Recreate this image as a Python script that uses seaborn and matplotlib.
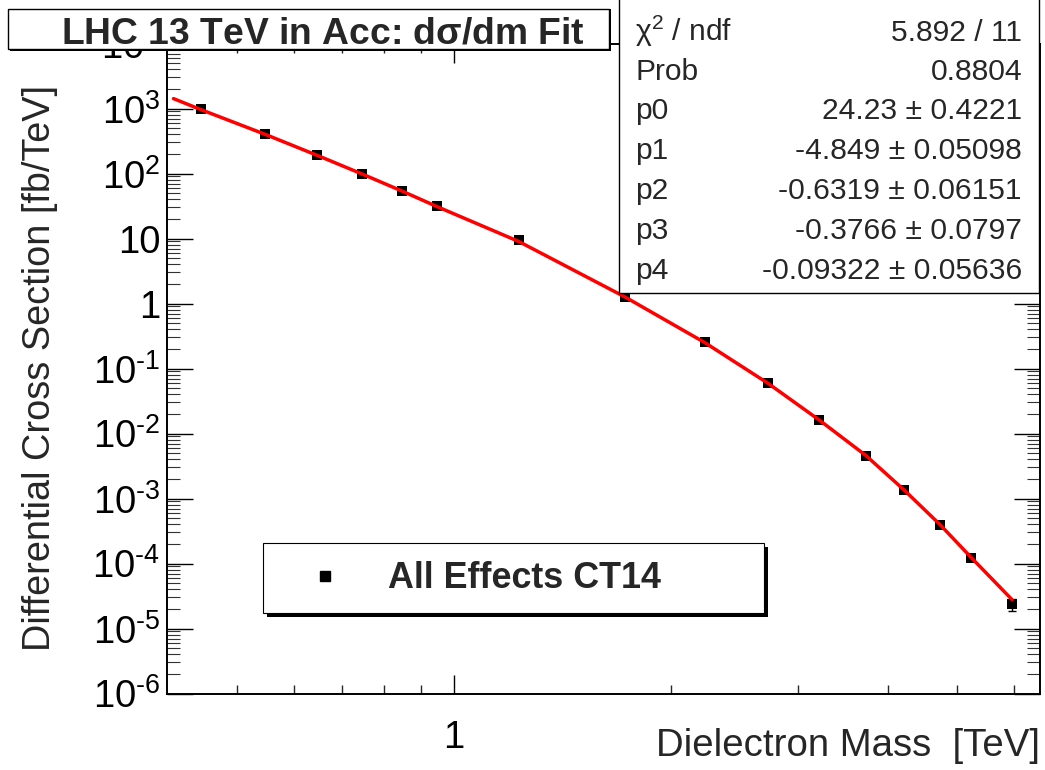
import numpy as np
import pandas as pd
import matplotlib
matplotlib.use("Agg")
import matplotlib.pyplot as plt
import seaborn as sns
from matplotlib.patches import Rectangle
from matplotlib.lines import Line2D
from matplotlib.ticker import FixedLocator, FixedFormatter, NullFormatter

# ---------------- data ----------------
mass_tev = [0.446, 0.547, 0.646, 0.746, 0.846, 0.947, 1.23, 1.73, 2.23, 2.73,
            3.21, 3.73, 4.22, 4.73, 5.22, 5.95]
xsec = [972, 405, 190, 98.2, 54.3, 31.6, 9.38, 1.27, 0.253, 0.0591,
        0.0162, 0.00451, 0.00135, 0.000395, 0.000122, 2.38e-5]
xsec_err = [5.0, 2.0, 1.0, 0.5, 0.3, 0.2, 0.06, 0.01, 0.002, 0.0006,
            0.0002, 0.00006, 0.00002, 0.000009, 0.000005, 0.000005]

fit_mass = [0.408, 0.446, 0.547, 0.646, 0.746, 0.846, 0.947, 1.23, 1.73, 2.23,
            2.73, 3.21, 3.73, 4.22, 4.73, 5.22, 5.95]
fit_xsec = [1420, 955, 400, 190, 98, 54, 31, 9.0, 1.25, 0.25,
            0.059, 0.0163, 0.0046, 0.00134, 0.000396, 0.000125, 2.8e-5]

x_major = [1]
x_major_labels = ["1"]
x_minor = [0.5, 0.6, 0.7, 0.8, 0.9, 2, 3, 4, 5, 6]
y_major = [1e-6, 1e-5, 1e-4, 1e-3, 1e-2, 1e-1, 1, 10, 1e2, 1e3, 1e4]
y_major_labels = ["$10^{\u20106}$", "$10^{\u20105}$", "$10^{\u20104}$", "$10^{\u20103}$",
                  "$10^{\u20102}$", "$10^{\u20101}$", "1", "10", "$10^{2}$", "$10^{3}$",
                  "$10^{4}$"]

title_text = r"LHC 13 TeV in Acc: d$\mathregular{\sigma}$/dm Fit"
legend_label = "All Effects CT14"
x_title = "Dielectron Mass  [TeV]"
y_title = "Differential Cross Section [fb/TeV]"
stat_names = [r"$\mathregular{\chi^{2}}$ / ndf", "Prob", "p0", "p1", "p2", "p3", "p4"]
stat_values = ["5.892 / 11", "0.8804", "24.23 \u00b1 0.4221", "-4.849 \u00b1 0.05098",
               "-0.6319 \u00b1 0.06151", "-0.3766 \u00b1 0.0797", "-0.09322 \u00b1 0.05636"]

df = pd.DataFrame({"mass": mass_tev, "xsec": xsec, "err": xsec_err})
df_fit = pd.DataFrame({"mass": fit_mass, "xsec": fit_xsec})

# ---------------- style ----------------
sns.set_style("white")
plt.rcParams["font.family"] = ["Liberation Sans", "DejaVu Sans"]
plt.rcParams["mathtext.fontset"] = "custom"
plt.rcParams["mathtext.rm"] = "Liberation Sans"
plt.rcParams["mathtext.it"] = "Liberation Sans:italic"
plt.rcParams["mathtext.bf"] = "Liberation Sans:bold"

W, H = 1045, 770
fig = plt.figure(figsize=(W / 100, H / 100), dpi=100)
fig.patch.set_facecolor("white")

def fx(x):
    return x / W

def fy(y):
    return 1 - y / H

L, R, T, B = 167.3, 1039.5, 43.5, 693.5
ax = fig.add_axes([fx(L), fy(B), (R - L) / W, (B - T) / H])
ax.set_facecolor("white")
ax.set_xscale("log")
ax.set_yscale("log")
ax.set_xlim(0.4, 6.5)
ax.set_ylim(1e-6, 1e4)

# error bars, markers, fit curve
ax.errorbar(df["mass"], df["xsec"], yerr=df["err"], fmt="none", ecolor="black",
            elinewidth=1.0, capsize=3, capthick=1.0, zorder=2)
sns.scatterplot(data=df, x="mass", y="xsec", marker="s", color="black", s=46,
                edgecolor="black", linewidth=0, zorder=3, ax=ax, legend=False)
sns.lineplot(data=df_fit, x="mass", y="xsec", color="red", linewidth=2.5,
             sort=False, estimator=None, zorder=4, ax=ax)

ax.set_xlabel("")
ax.set_ylabel("")

# ticks
ax.xaxis.set_major_locator(FixedLocator(x_major))
ax.xaxis.set_major_formatter(FixedFormatter(x_major_labels))
ax.xaxis.set_minor_locator(FixedLocator(x_minor))
ax.xaxis.set_minor_formatter(NullFormatter())
y_minor = [m * d for d in y_major[:-1] for m in range(2, 10)]
ax.yaxis.set_major_locator(FixedLocator(y_major))
ax.yaxis.set_major_formatter(FixedFormatter(y_major_labels))
ax.yaxis.set_minor_locator(FixedLocator(y_minor))
ax.yaxis.set_minor_formatter(NullFormatter())

ax.tick_params(axis="y", which="major", direction="in", left=True, right=True,
               length=18.7, width=1.0, pad=5, labelsize=27.5, colors="black")
ax.tick_params(axis="y", which="minor", direction="in", left=True, right=True,
               length=9.4, width=0.8, color="#333333")
ax.tick_params(axis="x", which="major", direction="in", bottom=True, top=True,
               length=13.4, width=1.0, pad=19, labelsize=27.5, colors="black")
ax.tick_params(axis="x", which="minor", direction="in", bottom=True, top=True,
               length=6.7, width=1.0)
for sp in ax.spines.values():
    sp.set_linewidth(1.4)
    sp.set_color("black")

# axis titles
fig.text(fx(1040), fy(746), x_title, ha="right", va="center", fontsize=27.6)
fig.text(fx(40), fy(368), y_title, ha="center", va="center", rotation=90, fontsize=27.3)

# title box (with shadow)
fig.patches.append(Rectangle((fx(10), fy(51)), (609 - 8) / W, (51 - 9) / H,
                             transform=fig.transFigure, facecolor="black",
                             edgecolor="none", zorder=5))
fig.patches.append(Rectangle((fx(8), fy(49)), (609 - 8) / W, (49 - 9) / H,
                             transform=fig.transFigure, facecolor="white",
                             edgecolor="black", linewidth=1.0, zorder=6))
fig.text(fx(322.5), fy(43), title_text, ha="center", va="baseline", fontsize=26.8,
         fontweight="bold", zorder=7)

# stats box
fig.patches.append(Rectangle((fx(619), fy(293)), (1039 - 619) / W, (293 + 2) / H,
                             transform=fig.transFigure, facecolor="white",
                             edgecolor="black", linewidth=1.0, zorder=6))
row_centers = [30, 69, 108, 148, 188, 228, 268]
for name, val, yc in zip(stat_names, stat_values, row_centers):
    fig.text(fx(635), fy(yc + 10.7), name, ha="left", va="baseline", fontsize=21.6, zorder=7)
    fig.text(fx(1022), fy(yc + 10.7), val, ha="right", va="baseline", fontsize=21.6, zorder=7)

# legend box (with shadow)
fig.patches.append(Rectangle((fx(267), fy(617)), (764 - 263) / W, (613 - 543) / H,
                             transform=fig.transFigure, facecolor="black",
                             edgecolor="none", zorder=5))
fig.patches.append(Rectangle((fx(263), fy(613)), (764 - 263) / W, (613 - 543) / H,
                             transform=fig.transFigure, facecolor="white",
                             edgecolor="black", linewidth=0.8, zorder=6))
handle = Line2D([], [], linestyle="none", marker="s", markersize=6.5,
                markerfacecolor="black", markeredgecolor="black")
leg = fig.legend([handle], [legend_label], loc="center left",
                 bbox_to_anchor=(fx(289), fy(579)), bbox_transform=fig.transFigure,
                 frameon=False, borderpad=0, borderaxespad=0, handlelength=2.0,
                 handletextpad=0.75,
                 prop={"weight": "bold", "size": 25.8, "family": ["Liberation Sans"]})
leg.set_zorder(8)

fig.savefig("out.png", dpi=100, facecolor="white")
